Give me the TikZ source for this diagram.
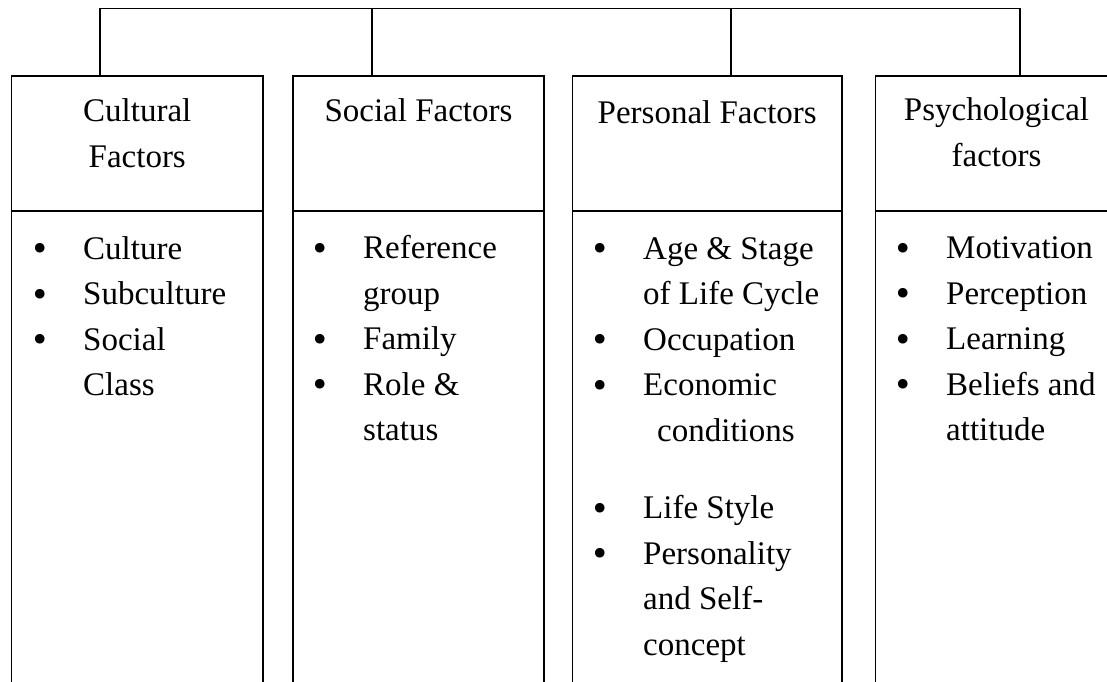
\documentclass[tikz,border=0pt]{standalone}
\usepackage{fontspec}
\setmainfont{Liberation Serif}
\newfontfamily\bulletfont{DejaVu Sans}
\newcommand\fb{\makebox[0pt]{\bulletfont\raisebox{-1.5pt}{•}}\hspace*{43pt}}
\begin{document}
\begin{tikzpicture}[x=1pt,y=-1pt,
    wire/.style={line width=1.8pt,line join=miter},
    box/.style={draw,line width=1.8pt,inner sep=0pt,outer sep=0pt,anchor=north west},
    head/.style={box,minimum height=135pt},
    body/.style={box,minimum height=480pt},
    title/.style={anchor=base,inner sep=0pt,font=\fontsize{33}{45.5}\selectfont},
    list/.style={anchor=base west,inner sep=0pt,font=\fontsize{33}{45.5}\selectfont}]
  \useasboundingbox (0,0) rectangle (1107,681);
  \clip (0,0) rectangle (1107,681);
  % header boxes
  \node[head,minimum width=251.5pt] (hcult) at (11.5,76) {};
  \node[head,minimum width=251pt] (hsoc) at (293,76) {};
  \node[head,minimum width=269.5pt] (hpers) at (572.5,76) {};
  \node[head,minimum width=242pt] (hpsy) at (875.5,76) {};
  % body boxes
  \node[body,minimum width=251.5pt] (bcult) at (hcult.south west) {};
  \node[body,minimum width=251pt] (bsoc) at (hsoc.south west) {};
  \node[body,minimum width=269.5pt] (bpers) at (hpers.south west) {};
  \node[body,minimum width=242pt] (bpsy) at (hpsy.south west) {};
  % titles
  \node[title] (cult) at (hcult.north |- 0,121.5) {\begin{tabular}[t]{@{}c@{}}Cultural\\Factors\end{tabular}};
  \node[title] (soc) at (hsoc.north |- 0,121) {Social Factors};
  \node[title] (pers) at (hpers.north |- 0,123) {Personal Factors};
  \node[title] (psy) at (hpsy.north |- 0,120.5) {\begin{tabular}[t]{@{}c@{}}Psychological\\factors\end{tabular}};
  % lists
  \node[list] (lcult) at (40,259) {\begin{tabular}[t]{@{}l@{}l@{}}
      \fb & Culture\\ \fb & Subculture\\ \fb & Social\\ & Class\end{tabular}};
  \node[list] (lsoc) at (320,258.5) {\begin{tabular}[t]{@{}l@{}l@{}}
      \fb & Reference\\ & group\\ \fb & Family\\ \fb & Role \&\\ & status\end{tabular}};
  \node[list] (lpers) at (600,259) {\begin{tabular}[t]{@{}l@{}l@{}}
      \fb & Age \& Stage\\ & of Life Cycle\\ \fb & Occupation\\ \fb & Economic\\
      & \hspace*{14pt}conditions\\[32pt]
      \fb & Life Style\\ \fb & Personality\\ & and Self-\\ & concept\end{tabular}};
  \node[list] (lpsy) at (903,258.5) {\begin{tabular}[t]{@{}l@{}l@{}}
      \fb & Motivation\\ \fb & Perception\\ \fb & Learning\\ \fb & Beliefs and\\ & attitude\end{tabular}};
  % connectors
  \coordinate (t1) at (100,8.5);
  \coordinate (t2) at (372,8.5);
  \coordinate (t3) at (731,8.5);
  \coordinate (t4) at (1020,8.5);
  \draw[wire] (t1 |- hcult.north) -- (t1) -- (t4) -- (t4 |- hpsy.north);
  \draw[wire] (t2) -- (t2 |- hsoc.north);
  \draw[wire] (t3) -- (t3 |- hpers.north);
\end{tikzpicture}
\end{document}
